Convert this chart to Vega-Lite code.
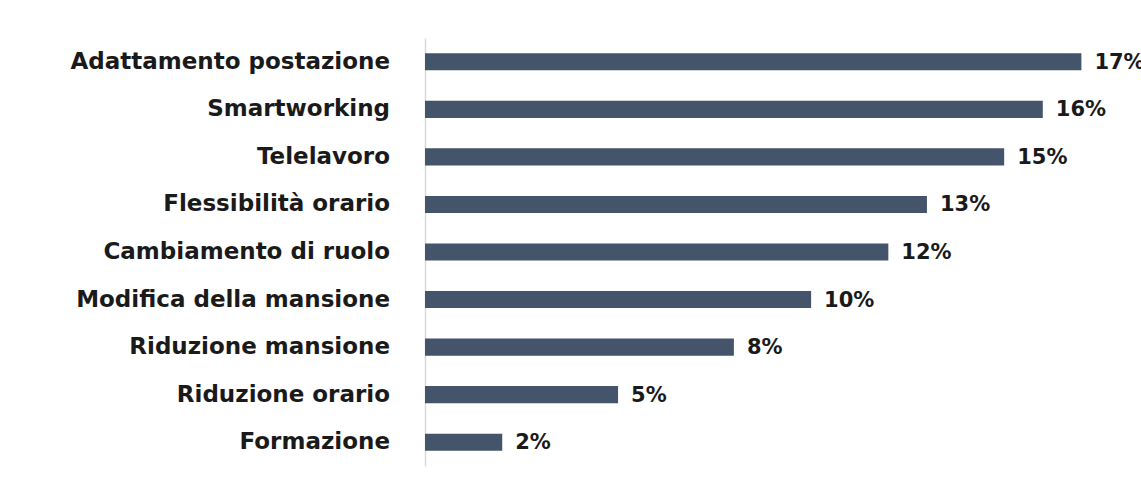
{
  "$schema": "https://vega.github.io/schema/vega-lite/v6.json",
  "autosize": "none",
  "width": 695,
  "height": 428,
  "padding": {"left": 425, "top": 38, "right": 21, "bottom": 13},
  "background": "white",
  "config": {"view": {"stroke": null}},
  "data": {"values": [
    {"categoria": "Adattamento postazione", "valore": 0.17},
    {"categoria": "Smartworking", "valore": 0.16},
    {"categoria": "Telelavoro", "valore": 0.15},
    {"categoria": "Flessibilità orario", "valore": 0.13},
    {"categoria": "Cambiamento di ruolo", "valore": 0.12},
    {"categoria": "Modifica della mansione", "valore": 0.10},
    {"categoria": "Riduzione mansione", "valore": 0.08},
    {"categoria": "Riduzione orario", "valore": 0.05},
    {"categoria": "Formazione", "valore": 0.02}
  ]},
  "encoding": {
    "y": {
      "field": "categoria", "type": "nominal", "sort": null,
      "scale": {"paddingInner": 0.64, "paddingOuter": 0.32},
      "axis": {"labels": false, "ticks": false, "title": null, "domain": true, "domainColor": "#d9d9d9", "domainWidth": 1.5}
    }
  },
  "layer": [
    {
      "mark": {"type": "bar", "color": "#44546a"},
      "encoding": {
        "x": {"field": "valore", "type": "quantitative", "scale": {"domain": [0, 0.18], "nice": false}, "axis": null}
      }
    },
    {
      "mark": {"type": "text", "align": "left", "baseline": "middle", "dx": 13, "dy": 1, "font": "DejaVu Sans", "fontWeight": "bold", "fontSize": 21, "color": "#1a1a1a"},
      "encoding": {
        "x": {"field": "valore", "type": "quantitative"},
        "text": {"field": "valore", "type": "quantitative", "format": ".0%"}
      }
    },
    {
      "mark": {"type": "text", "align": "right", "baseline": "middle", "dx": -35, "dy": 0, "font": "DejaVu Sans", "fontWeight": "bold", "fontSize": 23, "color": "#1a1a1a"},
      "encoding": {
        "x": {"datum": 0, "type": "quantitative"},
        "text": {"field": "categoria"}
      }
    }
  ]
}
